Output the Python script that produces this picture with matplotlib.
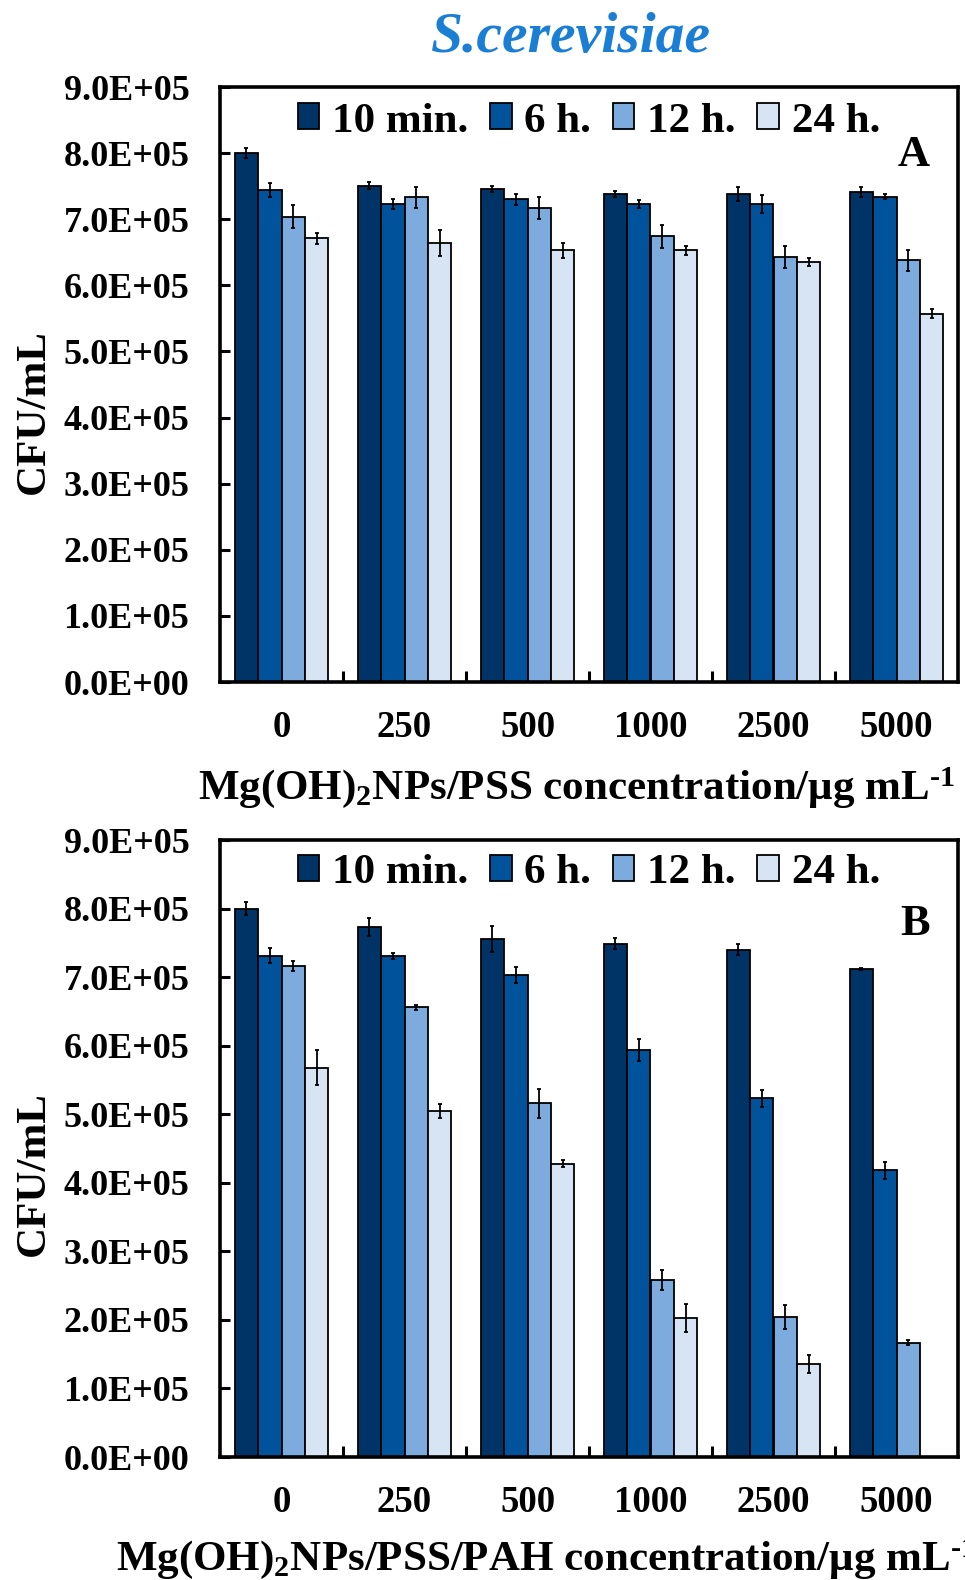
import matplotlib
matplotlib.use("Agg")
import matplotlib.pyplot as plt
import numpy as np
from matplotlib.ticker import FuncFormatter, FixedLocator

plt.rcParams['font.family'] = ['Liberation Serif', 'DejaVu Serif']
plt.rcParams['font.weight'] = 'bold'
plt.rcParams['mathtext.fontset'] = 'custom'
plt.rcParams['mathtext.rm'] = 'Liberation Serif:bold'
plt.rcParams['mathtext.it'] = 'Liberation Serif:bold:italic'
plt.rcParams['mathtext.bf'] = 'Liberation Serif:bold'

categories = ["0", "250", "500", "1000", "2500", "5000"]
series = ["10 min.", "6 h.", "12 h.", "24 h."]
colors = ["#003366", "#00529B", "#7EABDE", "#D6E4F4"]

# Panel A (x1e5 CFU/mL)
A_vals = [
    [8.00, 7.51, 7.46, 7.38, 7.38, 7.41],
    [7.44, 7.23, 7.30, 7.23, 7.23, 7.34],
    [7.04, 7.33, 7.17, 6.74, 6.43, 6.38],
    [6.71, 6.64, 6.53, 6.53, 6.36, 5.57],
]
A_err = [
    [0.08, 0.05, 0.05, 0.05, 0.11, 0.07],
    [0.11, 0.07, 0.08, 0.06, 0.13, 0.04],
    [0.17, 0.16, 0.17, 0.17, 0.17, 0.16],
    [0.08, 0.19, 0.11, 0.07, 0.06, 0.07],
]
# Panel B (x1e5 CFU/mL)
B_vals = [
    [8.00, 7.73, 7.56, 7.49, 7.40, 7.12],
    [7.31, 7.31, 7.03, 5.94, 5.23, 4.18],
    [7.16, 6.56, 5.16, 2.58, 2.04, 1.67],
    [5.68, 5.05, 4.28, 2.03, 1.36, 0.0],
]
B_err = [
    [0.09, 0.13, 0.19, 0.08, 0.08, 0.02],
    [0.11, 0.04, 0.12, 0.16, 0.12, 0.12],
    [0.07, 0.04, 0.21, 0.15, 0.17, 0.03],
    [0.25, 0.10, 0.05, 0.20, 0.13, 0.0],
]

W, H = 965, 1580
fig = plt.figure(figsize=(W/100, H/100), dpi=100)

def make_ax(top, bottom, left=220, right=958):
    return fig.add_axes([left/W, 1 - bottom/H, (right-left)/W, (bottom-top)/H])

axA = make_ax(87, 682)
axB = make_ax(840, 1457)

def draw(ax, vals, errs, letter, letter_y, leg_y, ylabel_y, xlabel, xlabel_x, xlabel_y):
    x = np.arange(len(categories))
    bw = 0.19
    for i, (v, e) in enumerate(zip(vals, errs)):
        v = np.array(v) * 1e5
        e = np.array(e) * 1e5
        pos = x + (i - 1.5) * bw
        mask = v > 0
        ax.bar(pos[mask], v[mask], bw, color=colors[i], edgecolor='black',
               linewidth=1.3, label=series[i], zorder=2)
        ax.errorbar(pos[mask], v[mask], yerr=e[mask], fmt='none', ecolor='black',
                    elinewidth=1.3, capsize=1.5, capthick=1.3, zorder=3)
    ax.set_xlim(-0.5, len(categories) - 0.5)
    ax.set_ylim(0, 9e5)
    ax.yaxis.set_major_locator(FixedLocator(np.arange(0, 9.01e5, 1e5)))
    ax.yaxis.set_major_formatter(FuncFormatter(lambda v, p: "{:.1E}".format(v)))
    ax.tick_params(axis='y', direction='in', length=7, width=2.2, labelsize=26, pad=22)
    ax.set_xticks(x)
    ax.set_xticklabels(categories)
    ax.tick_params(axis='x', which='major', length=0, labelsize=26.5, pad=20)
    ax.set_xticks(np.arange(0.5, len(categories) - 0.5, 1), minor=True)
    ax.tick_params(axis='x', which='minor', direction='in', length=8, width=2.2)
    for lab in ax.get_xticklabels() + ax.get_yticklabels():
        lab.set_fontweight('bold')
    for s in ax.spines.values():
        s.set_linewidth(2.6)
    ax.set_ylabel("CFU/mL", fontsize=31, fontweight='bold')
    ax.yaxis.set_label_coords(-0.226, ylabel_y)
    ax.set_xlabel(xlabel, fontsize=31, fontweight='bold', ha='left', va='top')
    ax.xaxis.set_label_coords(xlabel_x, xlabel_y)
    ax.text(0.962, letter_y, letter, transform=ax.transAxes, ha='right', va='center',
            fontsize=32, fontweight='bold')
    ax.legend(loc='center', bbox_to_anchor=(0.5, leg_y), ncol=4, frameon=False,
              prop={'size': 31, 'weight': 'bold'}, handlelength=0.5, handleheight=0.55,
              handletextpad=0.3, columnspacing=0.5, borderaxespad=0.0)

draw(axA, A_vals, A_err, "A", 0.886, 0.942, 0.455,
     r"Mg(OH)$_2$NPs/PSS concentration/μg mL$^{\text{-}1}$", -0.03, -0.14)
draw(axB, B_vals, B_err, "B", 0.864, 0.946, 0.46,
     r"Mg(OH)$_2$NPs/PSS/PAH concentration/μg mL$^{\text{-}1}$", -0.141, -0.128)

fig.text(571/W, 1 - 38/H, "S.cerevisiae", ha='center', va='center', fontsize=41.5,
         fontweight='bold', fontstyle='italic', color='#1A7FD4')

fig.savefig("out.png", dpi=100)
